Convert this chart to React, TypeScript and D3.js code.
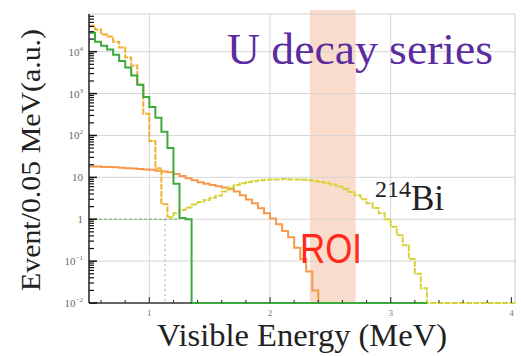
import React from "react";
import * as d3 from "d3";

// ---- data (log10 of counts per 0.05 MeV bin) ----
const BIN = 0.05;
const goldStart = 0.5;
const goldLog = [4.62, 4.53, 4.41, 4.36, 4.24, 4.1, 3.86, 3.67, 3.21, 2.52, 1.87, 1.22, 0.36];
const greenStart = 0.5;
const greenLog = [4.45, 4.24, 4.14, 4.05, 3.93, 3.78, 3.62, 3.43, 3.21, 2.92, 2.68, 2.42, 2.09, 1.7, 0.85, 0.03, 0.0];
const orangeStart = 0.5;
const orangeLog = [
  1.26, 1.26, 1.25, 1.25, 1.24, 1.23, 1.22, 1.21, 1.2, 1.19, 1.18, 1.16, 1.14, 1.12, 1.08, 1.03, 0.98, 0.93,
  0.88, 0.85, 0.82, 0.79, 0.76, 0.72, 0.66, 0.57, 0.47, 0.38, 0.26, 0.14, 0.02, -0.12, -0.28, -0.43, -0.68,
  -0.95, -1.25, -1.7,
];
const yellowStart = 1.15;
const yellowLog = [
  0.05, 0.14, 0.22, 0.28, 0.35, 0.41, 0.46, 0.51, 0.56, 0.66, 0.76, 0.82, 0.86, 0.89, 0.91, 0.93, 0.94, 0.95,
  0.95, 0.96, 0.95, 0.95, 0.94, 0.93, 0.91, 0.89, 0.86, 0.83, 0.78, 0.72, 0.65, 0.57, 0.48, 0.38, 0.27, 0.14,
  0.0, -0.18, -0.38, -0.62, -0.95, -1.3, -1.65,
];
const roiRange = [2.33, 2.71];
const cutEnergy = 1.13;
const xTickValues = [1, 2, 3, 4];
const xTickLabels = ["1", "2", "3", "4"];
const yDecades = [4, 3, 2, 1, 0, -1, -2];
const yTickBase = ["10", "10", "10", "10", "1", "10", "10"];
const yTickExp = ["4", "3", "2", "", "", "\u22121", "\u22122"];

const W = 521, H = 356;
const L = 89, R = 515, T = 14, B = 303;
const FLOOR = 0.01;
const SERIF = "'Liberation Serif', 'Times New Roman', Times, serif";
const SANS = "'Liberation Sans', Arial, Helvetica, sans-serif";

export default function App() {
  const x = d3.scaleLinear().domain([0.5, 4.03]).range([L, R]);
  const y = d3.scaleLog().domain([FLOOR, Math.pow(10, 4.9)]).range([B, T]).clamp(true);

  type P = { e: number; v: number };
  const line = d3
    .line<P>()
    .x((d) => x(d.e))
    .y((d) => y(d.v))
    .curve(d3.curveStepAfter);

  const hist = (start: number, logs: number[], dropTo: number, floorEnd?: number) => {
    const pts: P[] = logs.map((l, i) => ({ e: start + i * BIN, v: Math.pow(10, l) }));
    const end = start + logs.length * BIN;
    pts.push({ e: end, v: Math.pow(10, logs[logs.length - 1]) });
    pts.push({ e: end, v: dropTo });
    if (floorEnd !== undefined) pts.push({ e: floorEnd, v: dropTo });
    return line(pts) || "";
  };

  const yEnd = yellowStart + yellowLog.length * BIN;
  const gEnd = greenStart + greenLog.length * BIN;

  const minorTicks: number[] = [];
  for (let d = -2; d < 5; d++) for (let k = 2; k <= 9; k++) {
    const v = k * Math.pow(10, d);
    if (v < Math.pow(10, 4.9)) minorTicks.push(v);
  }
  const xMinor: number[] = [];
  for (let e = 0.6; e < 4.03; e += 0.2) xMinor.push(Math.round(e * 10) / 10);

  return (
    <svg width={W} height={H} style={{ position: "absolute", left: 0, top: 0, background: "#fff" }}>
      <rect x={x(roiRange[0])} y={10} width={x(roiRange[1]) - x(roiRange[0])} height={B - 10} fill="#f9dccb" />
      {yDecades.slice(0, 6).map((d) => (
        <line key={"hg" + d} x1={L} x2={R} y1={y(Math.pow(10, d))} y2={y(Math.pow(10, d))} stroke="#d6d6d6" strokeWidth={1} />
      ))}
      {[1, 2, 3].map((e) => (
        <line key={"vg" + e} x1={x(e)} x2={x(e)} y1={T} y2={B} stroke="#d6d6d6" strokeWidth={1} />
      ))}
      <line x1={L} x2={R} y1={T} y2={T} stroke="#cfcfcf" strokeWidth={1.2} />
      <line x1={R} x2={R} y1={T} y2={B} stroke="#cfcfcf" strokeWidth={1.2} />

      <line x1={L} x2={x(1.25)} y1={y(1)} y2={y(1)} stroke="#5cb84a" strokeWidth={1} strokeDasharray="3 2" />
      <line x1={x(cutEnergy)} x2={x(cutEnergy)} y1={y(1)} y2={B} stroke="#d39090" strokeWidth={1} strokeDasharray="2 3" />

      <path d={hist(orangeStart, orangeLog, FLOOR)} fill="none" stroke="#f7984a" strokeWidth={2} />
      <path d={hist(yellowStart, yellowLog, FLOOR, 4.03)} fill="none" stroke="#d8d23a" strokeWidth={2} strokeDasharray="6 1.2" />
      <path d={hist(goldStart, goldLog, Math.pow(10, 0.05))} fill="none" stroke="#f0b030" strokeWidth={2} strokeDasharray="6 1.2" />
      <path d={hist(greenStart, greenLog, FLOOR, yEnd)} fill="none" stroke="#3caa3c" strokeWidth={2} />

      <line x1={L} x2={L} y1={T} y2={B} stroke="#222" strokeWidth={1.5} />
      <line x1={L} x2={x(gEnd)} y1={B} y2={B} stroke="#333" strokeWidth={1.5} />
      {yDecades.map((d) => (
        <line key={"yt" + d} x1={L} x2={L + 8} y1={y(Math.pow(10, d))} y2={y(Math.pow(10, d))} stroke="#111" strokeWidth={1.5} />
      ))}
      {minorTicks.map((v, i) => (
        <line key={"ym" + i} x1={L} x2={L + 5} y1={y(v)} y2={y(v)} stroke="#111" strokeWidth={1.2} />
      ))}
      {xMinor.map((e, i) => (
        <line key={"xm" + i} x1={x(e)} x2={x(e)} y1={B} y2={B - (Number.isInteger(e) ? 6 : 3)} stroke="#444" strokeWidth={1.2} />
      ))}
      {yDecades.map((d, i) => (
        <text key={"yl" + d} x={83} y={y(Math.pow(10, d)) + 4} textAnchor="end" fontFamily={SERIF} fontSize={11} fill="#666">
          {yTickBase[i]}
          {yTickExp[i] && (
            <tspan fontSize={7} dy={-5}>
              {yTickExp[i]}
            </tspan>
          )}
        </text>
      ))}
      {xTickValues.map((e, i) => (
        <text key={"xl" + e} x={x(e)} y={316} textAnchor="middle" fontFamily={SERIF} fontSize={9} fill="#777">
          {xTickLabels[i]}
        </text>
      ))}

      <text x={302} y={346} textAnchor="middle" fontFamily={SERIF} fontSize={31} fill="#222" textLength={290} lengthAdjust="spacingAndGlyphs">
        Visible Energy (MeV)
      </text>
      <text transform="translate(40,160) rotate(-90)" textAnchor="middle" fontFamily={SERIF} fontSize={28} fill="#222" textLength={262} lengthAdjust="spacingAndGlyphs">
        Event/0.05 MeV(a.u.)
      </text>
      <text x={227} y={64} fontFamily={SERIF} fontSize={44} fill="#5b2ca0" textLength={266} lengthAdjust="spacingAndGlyphs">
        U decay series
      </text>
      <text x={375} y={210} fontFamily={SERIF} fill="#222">
        <tspan fontSize={24} dy={-13}>214</tspan>
        <tspan fontSize={35} dy={13}>Bi</tspan>
      </text>
      <text x={300} y={263} fontFamily={SANS} fontSize={42} fill="#ff2a1a" textLength={62} lengthAdjust="spacingAndGlyphs">
        ROI
      </text>
    </svg>
  );
}
